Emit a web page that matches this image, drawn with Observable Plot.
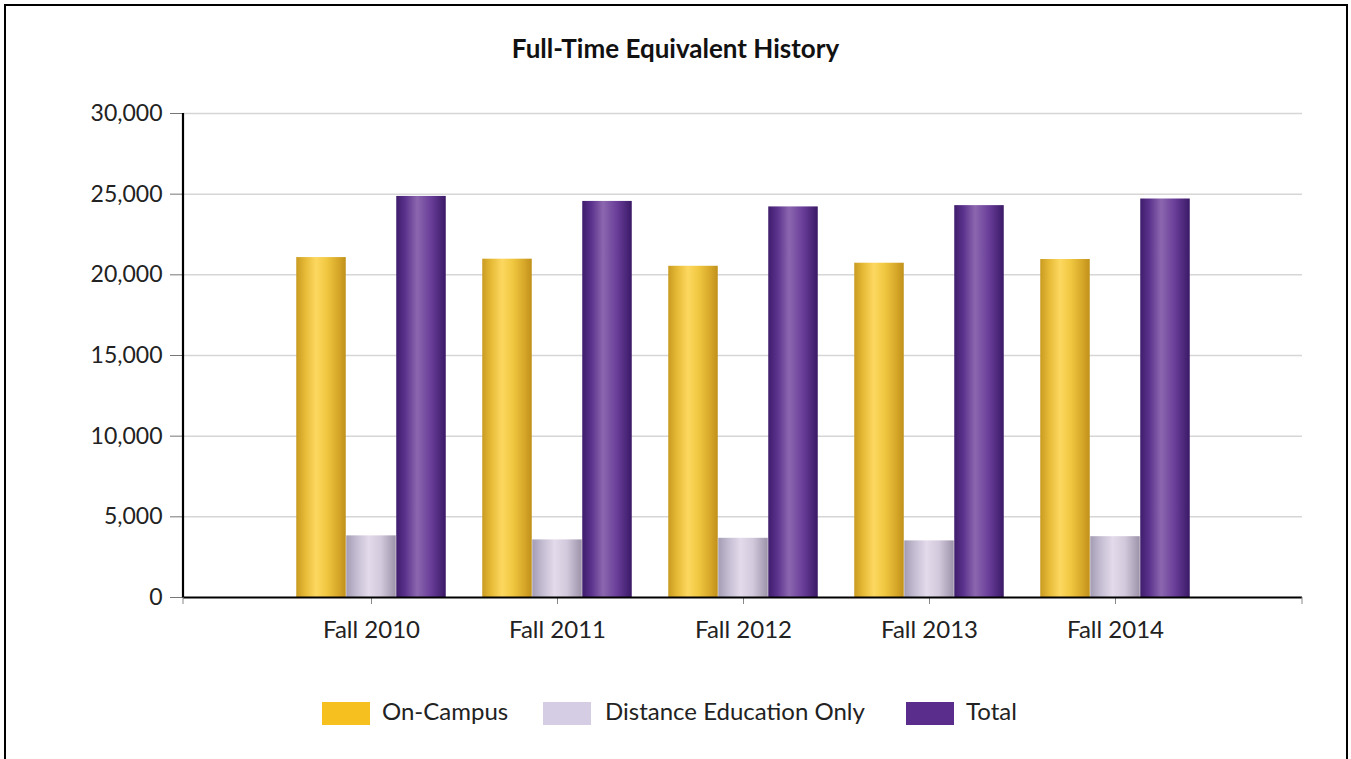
<!DOCTYPE html>
<html><head><meta charset="utf-8">
<script src="https://cdn.jsdelivr.net/npm/d3@7"></script>
<script src="https://cdn.jsdelivr.net/npm/@observablehq/plot@0.6"></script>
<style>
body{margin:0;background:#fff;font-family:Lato,"Open Sans",sans-serif;width:1351px;height:759px;overflow:hidden;position:relative;}
#frame{position:absolute;left:4px;top:4px;width:1344px;height:770px;border:2.5px solid #000;box-sizing:border-box;}
#title{position:absolute;left:0;width:1351px;top:33px;text-align:center;font-weight:bold;font-size:26px;line-height:1.2;color:#111;}
#chart{position:absolute;left:0;top:90px;}
#legend{position:absolute;top:700px;left:0;width:1351px;height:28px;}
.sw{position:absolute;top:2px;width:48px;height:23px;}
.lt{position:absolute;top:-3px;font-size:24px;line-height:1.2;color:#222;white-space:nowrap;}
</style></head><body>
<div id="frame"></div>
<div id="title">Full-Time Equivalent History</div>
<div id="chart"></div>
<div id="legend"></div>
<script>
const categories = ["Fall 2010", "Fall 2011", "Fall 2012", "Fall 2013", "Fall 2014"];
const seriesNames = ["On-Campus", "Distance Education Only", "Total"];
const onCampus = [21070, 20970, 20530, 20720, 20950];
const distanceOnly = [3820, 3570, 3670, 3510, 3770];
const total = [24860, 24550, 24210, 24290, 24700];
const yTicks = [0, 5000, 10000, 15000, 20000, 25000, 30000];
const legendColors = ["#F6C11F", "#D5CDE3", "#5A2D8C"];

const seriesValues = [onCampus, distanceOnly, total];
const gradIds = ["gGold", "gLav", "gPurp"];
const rows = seriesNames.map((s, k) => categories.map((c, i) => ({cat: c, series: s, value: seriesValues[k][i]})));

const barW = 50;
const step = 186.5;
const inset = (step - barW) / 2;

const chart = Plot.plot({
  width: 1351, height: 580,
  marginLeft: 183, marginRight: 49, marginTop: 23, marginBottom: 73,
  style: {fontFamily: "Lato, 'Open Sans', sans-serif", fontSize: "23px", color: "#222", background: "transparent"},
  x: {type: "band", domain: categories, paddingInner: 0, paddingOuter: 0.5, label: null},
  y: {domain: [0, 30000], label: null},
  marks: [
    Plot.gridY(yTicks.slice(1), {stroke: "#d6d6d6", strokeOpacity: 1, strokeWidth: 1.5}),
    ...rows.map((r, k) => Plot.barY(r, {x: "cat", y: "value", fill: `url(#${gradIds[k]})`, dx: (k - 1) * barW, insetLeft: inset, insetRight: inset})),
    Plot.axisY({ticks: yTicks, tickFormat: d3.format(","), tickSize: 13, tickPadding: 8, stroke: "#777", fontSize: 23, label: null}),
    Plot.axisX({tickSize: 7, tickPadding: 16, stroke: "#888", fontSize: 24, label: null}),
    Plot.ruleY([0], {stroke: "#000", strokeWidth: 2.2})
  ]
});
document.getElementById("chart").appendChild(chart);

const svg = d3.select(chart);
const defs = svg.insert("defs", ":first-child");
const grads = {
  gGold: [[0, "#C99B22"], [0.18, "#E6BA36"], [0.4, "#FDD860"], [0.62, "#F0C740"], [0.85, "#D6A729"], [1, "#C0901A"]],
  gLav: [[0, "#A49CB3"], [0.2, "#C3BBD0"], [0.45, "#E3DBEB"], [0.7, "#D2C9DC"], [1, "#9C93AA"]],
  gPurp: [[0, "#3F1D6C"], [0.18, "#5A318C"], [0.42, "#8C67AF"], [0.7, "#693E99"], [1, "#3A1966"]]
};
for (const [id, stops] of Object.entries(grads)) {
  const g = defs.append("linearGradient").attr("id", id).attr("x1", "0").attr("x2", "1").attr("y1", "0").attr("y2", "0");
  for (const [o, c] of stops) g.append("stop").attr("offset", o).attr("stop-color", c);
}
// y-axis line and x-axis end ticks from the library's scales
const xs = chart.scale("x"), ys = chart.scale("y");
const x0 = xs.range[0], x1 = xs.range[1];
const y0 = ys.apply(0), yTop = ys.apply(30000);
svg.append("line").attr("x1", x0).attr("x2", x0).attr("y1", yTop).attr("y2", y0 + 1).attr("stroke", "#000").attr("stroke-width", 2.2);
for (const xx of [x0, x1]) svg.append("line").attr("x1", xx).attr("x2", xx).attr("y1", y0).attr("y2", y0 + 7).attr("stroke", "#888");

// legend
const legendPos = [{sw: 322, tx: 382}, {sw: 543, tx: 605}, {sw: 906, tx: 966}];
const leg = document.getElementById("legend");
seriesNames.forEach((s, k) => {
  const sw = document.createElement("div");
  sw.className = "sw"; sw.style.left = legendPos[k].sw + "px"; sw.style.background = legendColors[k];
  const t = document.createElement("div");
  t.className = "lt"; t.style.left = legendPos[k].tx + "px"; t.textContent = s;
  leg.appendChild(sw); leg.appendChild(t);
});
</script>
</body></html>
